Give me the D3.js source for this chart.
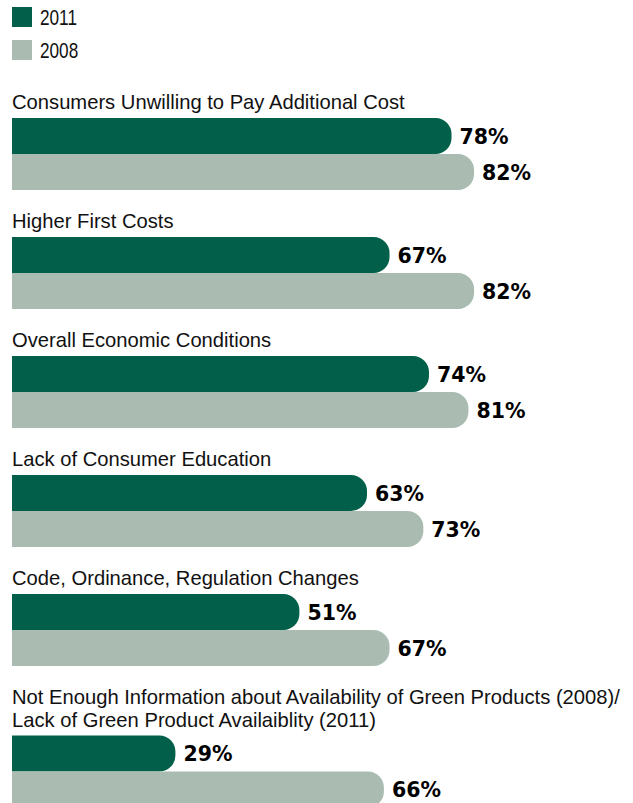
<!DOCTYPE html>
<html lang="en">
  <head>
    <meta charset="utf-8">
    <title>Barriers to Green Building</title>
    <style type="text/css">
      body{
        margin: 0;
        background: #fff;
      }
      .cat-label{
        font-family: "Liberation Sans", Arial, sans-serif;
        font-size: 20.2px;
        fill: #111;
      }
      .legend text{
        font-family: "Liberation Sans", Arial, sans-serif;
        font-size: 21.5px;
        fill: #111;
      }
      .value{
        font-family: "DejaVu Sans", sans-serif;
        font-weight: bold;
        font-size: 20.5px;
        fill: #000;
      }
    </style>
    <script src="https://cdn.jsdelivr.net/npm/d3@7"></script>
  </head>
  <body>
    <div id="chart"></div>
    <script type="text/javascript">
      //category labels, one entry per line of text
      var categories = [
        ["Consumers Unwilling to Pay Additional Cost"],
        ["Higher First Costs"],
        ["Overall Economic Conditions"],
        ["Lack of Consumer Education"],
        ["Code, Ordinance, Regulation Changes"],
        ["Not Enough Information about Availability of Green Products (2008)/",
         "Lack of Green Product Availaiblity (2011)"]
      ];

      //series shown, in drawing order
      var seriesNames = ["2011", "2008"];

      //percent values for each series
      var values2011 = [78, 67, 74, 63, 51, 29];
      var values2008 = [82, 82, 81, 73, 67, 66];

      var colors = ["#02604a", "#aabcb2"];

      var width = 633;
      var height = 803;

      var barLeft = 12;
      var barH = 36;
      var lineH = 22.5;

      //scale for the length of the bars
      var x = d3.scaleLinear()
        .domain([0, 100])
        .range([barLeft, 575.5]);

      //scale for the two bars inside one group
      var inner = d3.scaleBand()
        .domain(seriesNames)
        .range([0, barH * 2])
        .padding(0);

      //work out where each group starts (labels can have two lines)
      var groups = [];
      var baseline = 109;
      categories.forEach(function(lines, i){
        var lastBase = baseline + (lines.length - 1) * lineH;
        var barTop = lastBase + 9;
        groups.push({
          lines: lines,
          baseline: baseline,
          barTop: barTop,
          values: [values2011[i], values2008[i]]
        });
        baseline = barTop + barH * 2 + 38;
      });

      var svg = d3.select("#chart")
        .append("svg")
        .attr("width", width)
        .attr("height", height);

      //legend (text squeezed a little, the original uses a condensed face)
      var legend = svg.append("g").attr("class", "legend");
      seriesNames.forEach(function(name, i){
        legend.append("rect")
          .attr("x", 12)
          .attr("y", 7 + i * 33)
          .attr("width", 20)
          .attr("height", 20)
          .attr("fill", colors[i]);
        legend.append("text")
          .attr("transform", "translate(40," + (25 + i * 33) + ") scale(0.8,1)")
          .text(name);
      });

      //bar with a rounded right end
      function barPath(x0, x1, y, h){
        var r = Math.min(16, (x1 - x0), h / 2);
        return "M" + x0 + "," + y +
          "H" + (x1 - r) +
          "A" + r + "," + r + " 0 0 1 " + x1 + "," + (y + r) +
          "V" + (y + h - r) +
          "A" + r + "," + r + " 0 0 1 " + (x1 - r) + "," + (y + h) +
          "H" + x0 + "Z";
      }

      var g = svg.selectAll(".group")
        .data(groups)
        .enter()
        .append("g")
        .attr("class", "group");

      //category labels
      g.each(function(d){
        var sel = d3.select(this);
        d.lines.forEach(function(line, j){
          sel.append("text")
            .attr("class", "cat-label")
            .attr("x", barLeft)
            .attr("y", d.baseline + j * lineH)
            .text(line);
        });
      });

      //bars
      g.selectAll("path")
        .data(function(d){
          return d.values.map(function(v, k){
            return {top: d.barTop, v: v, s: seriesNames[k], c: colors[k]};
          });
        })
        .enter()
        .append("path")
        .attr("d", function(d){
          return barPath(x(0), x(d.v), d.top + inner(d.s), inner.bandwidth());
        })
        .attr("fill", function(d){ return d.c; });

      //value labels
      g.selectAll(".value")
        .data(function(d){
          return d.values.map(function(v, k){
            return {top: d.barTop, v: v, s: seriesNames[k]};
          });
        })
        .enter()
        .append("text")
        .attr("class", "value")
        .attr("x", function(d){ return x(d.v) + 8; })
        .attr("y", function(d){ return d.top + inner(d.s) + inner.bandwidth() / 2 + 7.5; })
        .text(function(d){ return d.v + "%"; });
    </script>
  </body>
</html>
